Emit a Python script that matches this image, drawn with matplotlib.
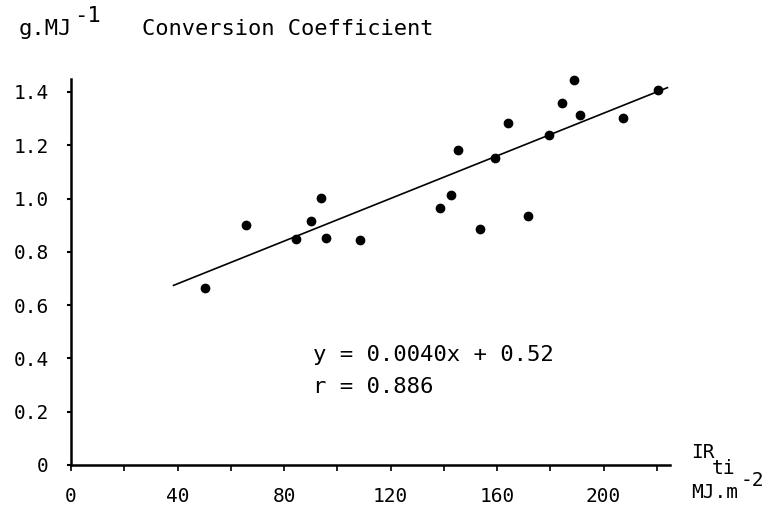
import matplotlib
matplotlib.use("Agg")
import matplotlib.pyplot as plt
import numpy as np

# ------------------ data ------------------
ir_ti = [50.3, 65.9, 84.4, 90.1, 93.9, 95.6, 108.7, 138.6, 142.8, 145.3,
         153.6, 159.3, 164.3, 171.6, 179.6, 184.5, 188.9, 191.1, 207.3, 220.3]
conv = [0.664, 0.899, 0.849, 0.914, 1.003, 0.851, 0.844, 0.963, 1.014, 1.181,
        0.884, 1.152, 1.284, 0.934, 1.237, 1.360, 1.443, 1.314, 1.302, 1.408]

slope = 0.0040
intercept = 0.52
r_value = 0.886
fit_range = [38.5, 224]

x_ticks = list(range(0, 221, 20))
x_labels = [str(t) if t % 40 == 0 else "" for t in x_ticks]
y_ticks = [0, 0.2, 0.4, 0.6, 0.8, 1.0, 1.2, 1.4]
y_labels = ["0", "0.2", "0.4", "0.6", "0.8", "1.0", "1.2", "1.4"]

# ------------------ plot ------------------
plt.rcParams['font.family'] = ['DejaVu Sans Mono']

fig = plt.figure(figsize=(7.72, 5.13), dpi=100)
ax = fig.add_axes([0.092, 0.0936, 0.776, 0.7532])

ax.plot(ir_ti, conv, 'ko', markersize=6, clip_on=False)
fx = np.array(fit_range)
ax.plot(fx, slope * fx + intercept, 'k-', linewidth=1.2, clip_on=False)

ax.set_xlim(0, 225)
ax.set_ylim(0, 1.45)
ax.spines['top'].set_visible(False)
ax.spines['right'].set_visible(False)
ax.spines['left'].set_linewidth(1.8)
ax.spines['bottom'].set_linewidth(1.8)

ax.set_xticks(x_ticks)
ax.set_xticklabels(x_labels, fontsize=14)
ax.set_yticks(y_ticks)
ax.set_yticklabels(y_labels, fontsize=14)
ax.tick_params(axis='x', direction='out', length=4, width=1.2, pad=12)
ax.tick_params(axis='y', direction='out', length=3, width=1.5, pad=13)

ax.text(0.404, 0.285, "y = 0.0040x + 0.52", transform=ax.transAxes,
        fontsize=16, va='center')
ax.text(0.404, 0.202, "r = %.3f" % r_value, transform=ax.transAxes,
        fontsize=16, va='center')

# titles / units, superscripts as separate texts
fig.text(19 / 772, 1 - 29 / 513, "g.MJ", fontsize=16, va='center')
fig.text(74 / 772, 1 - 16 / 513, "-1", fontsize=16, va='center')
fig.text(142 / 772, 1 - 29 / 513, "Conversion Coefficient", fontsize=15.8, va='center')
fig.text(691 / 772, 1 - 453 / 513, "IR", fontsize=14, va='center')
fig.text(712 / 772, 1 - 468 / 513, "ti", fontsize=14, va='center')
fig.text(691 / 772, 1 - 493 / 513, "MJ.m", fontsize=14, va='center')
fig.text(741 / 772, 1 - 480 / 513, "-2", fontsize=14, va='center')

fig.savefig("out.png", dpi=100)
